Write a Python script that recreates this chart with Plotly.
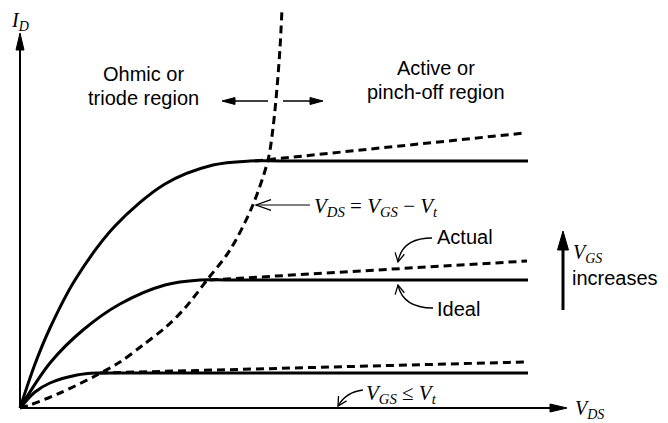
import math
import plotly.graph_objects as go

# ---- data (drawing units: V_DS to the right, I_D upwards) ----
# ideal curves (three V_GS levels)
vds_hi = [0, 15, 30, 55, 95, 145, 193, 230, 260, 508]
id_hi = [0, 44, 80, 128, 182, 224, 243, 247, 247, 247]
vds_mid = [0, 30, 63, 100, 145, 180, 210, 508]
id_mid = [0, 45, 78, 104, 123, 128, 128, 128]
vds_lo = [0, 15, 30, 57, 77, 95, 508]
id_lo = [0, 16, 25, 33, 35, 35, 35]
# actual (channel-length modulation) extensions
vds_hi_act = [235, 505]
id_hi_act = [247, 275]
vds_mid_act = [190, 507]
id_mid_act = [128, 147]
vds_lo_act = [80, 505]
id_lo_act = [35, 46]
# boundary V_DS = V_GS - V_t
vds_bound = [0, 10, 40, 77, 100, 123, 146, 165, 187, 210, 232, 248, 253, 257, 260, 262]
id_bound = [0, 3, 15, 33, 46, 63, 81, 100, 128, 158, 201, 248, 280, 320, 360, 399]

SANS = "Liberation Sans, Arial, sans-serif"
SERIF = "Liberation Serif, Times New Roman, serif"

fig = go.Figure()


def curve(x, y, dash=None, smooth=True):
    fig.add_trace(go.Scatter(
        x=x, y=y, mode="lines", hoverinfo="skip", showlegend=False,
        line=dict(color="black", width=3, dash=dash,
                  shape="spline" if smooth else "linear", smoothing=0.9)))


curve(vds_hi, id_hi)
curve(vds_mid, id_mid)
curve(vds_lo, id_lo)
DASH = "8px,5px"
curve(vds_hi_act, id_hi_act, DASH, False)
curve(vds_mid_act, id_mid_act, DASH, False)
curve(vds_lo_act, id_lo_act, DASH, False)
curve(vds_bound, id_bound, DASH)

shapes = []


def line(x0, y0, x1, y1, w):
    shapes.append(dict(type="line", xref="x", yref="y", x0=x0, y0=y0, x1=x1, y1=y1,
                       line=dict(color="black", width=w)))


def head(tx, ty, dx, dy, length, half):
    n = math.hypot(dx, dy)
    ux, uy = dx / n, dy / n
    bx, by = tx - ux * length, ty - uy * length
    px, py = -uy * half, ux * half
    shapes.append(dict(type="path", xref="x", yref="y",
                       path=f"M {tx},{ty} L {bx+px},{by+py} L {bx-px},{by-py} Z",
                       fillcolor="black", line=dict(color="black", width=1)))


def chevron(tx, ty, dx, dy, length=9, ang=28, w=1.3):
    n = math.hypot(dx, dy)
    ux, uy = dx / n, dy / n
    a = math.radians(ang)
    pts = []
    for s in (1, -1):
        c, si = math.cos(s * a), math.sin(s * a)
        rx, ry = ux * c - uy * si, ux * si + uy * c
        pts.append((tx - rx * length, ty - ry * length))
    shapes.append(dict(type="path", xref="x", yref="y",
                       path=f"M {pts[0][0]},{pts[0][1]} L {tx},{ty} L {pts[1][0]},{pts[1][1]}",
                       line=dict(color="black", width=w)))


def qcurve(x0, y0, cx, cy, x1, y1, w=1.3):
    shapes.append(dict(type="path", xref="x", yref="y",
                       path=f"M {x0},{y0} Q {cx},{cy} {x1},{y1}",
                       line=dict(color="black", width=w)))


# axes
line(0, 0, 0, 360, 2)
head(0, 375, 0, 1, 17, 4)
line(0, 0, 532, 0, 2)
head(547, 0, 1, 0, 17, 4)

# region double arrow
line(248, 307, 212, 307, 1.5)
head(202, 307, -1, 0, 13, 3.5)
line(263, 307, 292, 307, 1.5)
head(303, 307, 1, 0, 13, 3.5)

# V_GS increases arrow
line(543, 98, 543, 162, 3)
head(543, 177, 0, 1, 19, 5.5)

# pointer to boundary curve
line(290, 203, 236, 203, 1.2)
chevron(236, 203, -1, 0, 16, 20)

# Actual / Ideal pointers
qcurve(412, 170, 382, 170, 378, 146)
chevron(378, 146, -0.2, -1, 10, 28)
qcurve(413, 100, 383, 100, 378, 123)
chevron(378, 123, -0.2, 1, 10, 28)

# V_GS <= V_t pointer
qcurve(343, 18, 326, 16, 318, 2)
chevron(318, 2, -0.6, -1, 10, 28)

ann = []


def text(x, y, t, size, font, xanchor="center"):
    ann.append(dict(x=x, y=y, xref="x", yref="y", text=t, showarrow=False,
                    xanchor=xanchor, yanchor="middle",
                    font=dict(family=font, size=size, color="black")))


text(123, 334, "Ohmic or", 20, SANS)
text(123, 310, "triode region", 20, SANS)
text(416, 340, "Active or", 20, SANS)
text(416, 316, "pinch-off region", 20, SANS)
text(415, 171, "Actual", 20, SANS, "left")
text(415, 99, "Ideal", 20, SANS, "left")
text(550, 130, "increases", 20, SANS, "left")
text(551, 155, "<i>V</i><sub><i>GS</i></sub>", 20, SERIF, "left")
text(292, 201, "<i>V</i><sub><i>DS</i></sub> = <i>V</i><sub><i>GS</i></sub> − <i>V</i><sub><i>t</i></sub>", 21, SERIF, "left")
text(344, 14, "<i>V</i><sub><i>GS</i></sub> ≤ <i>V</i><sub><i>t</i></sub>", 21, SERIF, "left")
text(553, -1, "<i>V</i><sub><i>DS</i></sub>", 20, SERIF, "left")
text(-11, 387, "<i>I</i><sub><i>D</i></sub>", 20, SERIF, "left")

# page body has an 8px margin: size the figure so that it fits the 668x423 window
fig.update_layout(
    width=660, height=415, autosize=False,
    margin=dict(l=0, r=0, t=0, b=0, pad=0),
    paper_bgcolor="white", plot_bgcolor="white",
    xaxis=dict(visible=False, range=[-12, 648], fixedrange=True),
    yaxis=dict(visible=False, range=[-15, 400], fixedrange=True),
    shapes=shapes, annotations=ann, showlegend=False,
)

fig.write_html("out.html", config={"displayModeBar": False, "staticPlot": True})
